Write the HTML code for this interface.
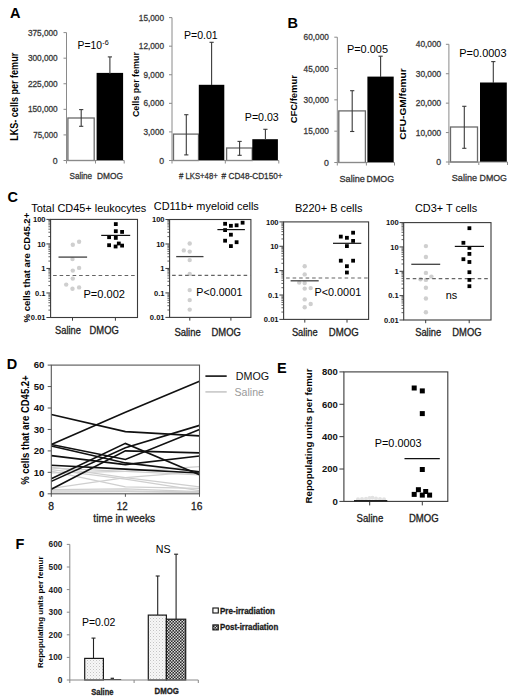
<!DOCTYPE html>
<html><head><meta charset="utf-8"><style>
html,body{margin:0;padding:0;background:#fff;}
svg{display:block;font-family:"Liberation Sans", sans-serif;}
</style></head><body>
<svg width="520" height="699" viewBox="0 0 520 699">
<rect width="520" height="699" fill="#fff"/>
<defs>
<pattern id="stip" width="3" height="3" patternUnits="userSpaceOnUse">
<rect width="3" height="3" fill="#f7f7f7"/><rect x="0" y="0" width="1" height="1" fill="#c4c4c4"/><rect x="1.5" y="1.5" width="1" height="1" fill="#d8d8d8"/>
</pattern>
<pattern id="chk" width="3" height="3" patternUnits="userSpaceOnUse">
<rect width="3" height="3" fill="#2a2a2a"/><rect x="0" y="0" width="1.5" height="1.5" fill="#d8d8d8"/><rect x="1.5" y="1.5" width="1.5" height="1.5" fill="#d8d8d8"/>
</pattern>
</defs>
<text x="10" y="17.6" font-size="14.5" font-weight="bold">A</text>
<text x="287.6" y="27.5" font-size="14.5" font-weight="bold">B</text>
<text x="7.4" y="202.3" font-size="14.5" font-weight="bold">C</text>
<text x="6.7" y="369" font-size="14.5" font-weight="bold">D</text>
<text x="277" y="373" font-size="14.5" font-weight="bold">E</text>
<text x="15.6" y="549" font-size="14.5" font-weight="bold">F</text>
<line x1="66.5" y1="32.6" x2="66.5" y2="160.5" stroke="#8a8a8a" stroke-width="1"/>
<line x1="63.5" y1="160.5" x2="66.5" y2="160.5" stroke="#8a8a8a" stroke-width="1"/>
<text x="57.7" y="163.6" font-size="8.7" text-anchor="end" fill="#3a3a3a" stroke="#3a3a3a" stroke-width="0.3">0</text>
<line x1="63.5" y1="134.92" x2="66.5" y2="134.92" stroke="#8a8a8a" stroke-width="1"/>
<text x="57.7" y="138.02" font-size="8.7" text-anchor="end" fill="#3a3a3a" textLength="24.5" lengthAdjust="spacingAndGlyphs" stroke="#3a3a3a" stroke-width="0.3">75,000</text>
<line x1="63.5" y1="109.34" x2="66.5" y2="109.34" stroke="#8a8a8a" stroke-width="1"/>
<text x="57.7" y="112.44" font-size="8.7" text-anchor="end" fill="#3a3a3a" textLength="29.8" lengthAdjust="spacingAndGlyphs" stroke="#3a3a3a" stroke-width="0.3">150,000</text>
<line x1="63.5" y1="83.76" x2="66.5" y2="83.76" stroke="#8a8a8a" stroke-width="1"/>
<text x="57.7" y="86.86" font-size="8.7" text-anchor="end" fill="#3a3a3a" textLength="29.8" lengthAdjust="spacingAndGlyphs" stroke="#3a3a3a" stroke-width="0.3">225,000</text>
<line x1="63.5" y1="58.18" x2="66.5" y2="58.18" stroke="#8a8a8a" stroke-width="1"/>
<text x="57.7" y="61.28" font-size="8.7" text-anchor="end" fill="#3a3a3a" textLength="29.8" lengthAdjust="spacingAndGlyphs" stroke="#3a3a3a" stroke-width="0.3">300,000</text>
<line x1="63.5" y1="32.6" x2="66.5" y2="32.6" stroke="#8a8a8a" stroke-width="1"/>
<text x="57.7" y="35.7" font-size="8.7" text-anchor="end" fill="#3a3a3a" textLength="29.8" lengthAdjust="spacingAndGlyphs" stroke="#3a3a3a" stroke-width="0.3">375,000</text>
<rect x="67.9" y="118" width="26.3" height="42.5" fill="#fff" stroke="#6a6a6a" stroke-width="1.3"/>
<rect x="96.6" y="72.9" width="26.5" height="87.6" fill="#000"/>
<line x1="81.2" y1="109.6" x2="81.2" y2="126.3" stroke="#3a3a3a" stroke-width="1.1"/>
<line x1="79.1" y1="109.6" x2="83.3" y2="109.6" stroke="#3a3a3a" stroke-width="1.1"/>
<line x1="79.1" y1="126.3" x2="83.3" y2="126.3" stroke="#3a3a3a" stroke-width="1.1"/>
<line x1="109.9" y1="56.9" x2="109.9" y2="74" stroke="#3a3a3a" stroke-width="1.1"/>
<line x1="107.8" y1="56.9" x2="112" y2="56.9" stroke="#3a3a3a" stroke-width="1.1"/>
<line x1="66.5" y1="160.5" x2="124.2" y2="160.5" stroke="#8a8a8a" stroke-width="1"/>
<line x1="66.5" y1="160.5" x2="66.5" y2="163.5" stroke="#8a8a8a" stroke-width="1"/>
<line x1="95.5" y1="160.5" x2="95.5" y2="163.5" stroke="#8a8a8a" stroke-width="1"/>
<line x1="124.2" y1="160.5" x2="124.2" y2="163.5" stroke="#8a8a8a" stroke-width="1"/>
<text x="69.5" y="178.7" font-size="9.6" fill="#333" textLength="22.6" lengthAdjust="spacingAndGlyphs" stroke="#333" stroke-width="0.3">Saline</text>
<text x="97" y="178.6" font-size="9.6" fill="#333" textLength="26" lengthAdjust="spacingAndGlyphs" stroke="#333" stroke-width="0.3">DMOG</text>
<text transform="translate(18,96.8) rotate(-90)" font-size="10.5" font-weight="bold" text-anchor="middle" textLength="88" lengthAdjust="spacingAndGlyphs">LKS- cells per femur</text>
<text x="77.5" y="49.2" font-size="11.2" textLength="24.5" lengthAdjust="spacingAndGlyphs">P=10</text>
<text x="102.3" y="45" font-size="7" textLength="6.4" lengthAdjust="spacingAndGlyphs">-6</text>
<line x1="172" y1="17.6" x2="172" y2="160.5" stroke="#8a8a8a" stroke-width="1"/>
<line x1="169" y1="160.5" x2="172" y2="160.5" stroke="#8a8a8a" stroke-width="1"/>
<text x="164" y="163.6" font-size="8.7" text-anchor="end" fill="#3a3a3a" stroke="#3a3a3a" stroke-width="0.3">0</text>
<line x1="169" y1="131.92" x2="172" y2="131.92" stroke="#8a8a8a" stroke-width="1"/>
<text x="164" y="135.02" font-size="8.7" text-anchor="end" fill="#3a3a3a" textLength="20.5" lengthAdjust="spacingAndGlyphs" stroke="#3a3a3a" stroke-width="0.3">3,000</text>
<line x1="169" y1="103.34" x2="172" y2="103.34" stroke="#8a8a8a" stroke-width="1"/>
<text x="164" y="106.44" font-size="8.7" text-anchor="end" fill="#3a3a3a" textLength="20.5" lengthAdjust="spacingAndGlyphs" stroke="#3a3a3a" stroke-width="0.3">6,000</text>
<line x1="169" y1="74.76" x2="172" y2="74.76" stroke="#8a8a8a" stroke-width="1"/>
<text x="164" y="77.86" font-size="8.7" text-anchor="end" fill="#3a3a3a" textLength="20.5" lengthAdjust="spacingAndGlyphs" stroke="#3a3a3a" stroke-width="0.3">9,000</text>
<line x1="169" y1="46.18" x2="172" y2="46.18" stroke="#8a8a8a" stroke-width="1"/>
<text x="164" y="49.28" font-size="8.7" text-anchor="end" fill="#3a3a3a" textLength="25.2" lengthAdjust="spacingAndGlyphs" stroke="#3a3a3a" stroke-width="0.3">12,000</text>
<line x1="169" y1="17.6" x2="172" y2="17.6" stroke="#8a8a8a" stroke-width="1"/>
<text x="164" y="20.7" font-size="8.7" text-anchor="end" fill="#3a3a3a" textLength="25.2" lengthAdjust="spacingAndGlyphs" stroke="#3a3a3a" stroke-width="0.3">15,000</text>
<rect x="173.5" y="134.1" width="25" height="26.4" fill="#fff" stroke="#6a6a6a" stroke-width="1.3"/>
<rect x="198.8" y="84.8" width="25.5" height="75.7" fill="#000"/>
<rect x="226.6" y="148" width="25.6" height="12.5" fill="#fff" stroke="#6a6a6a" stroke-width="1.3"/>
<rect x="252.3" y="139.2" width="25.6" height="21.3" fill="#000"/>
<line x1="186.3" y1="114.7" x2="186.3" y2="154.9" stroke="#3a3a3a" stroke-width="1.1"/>
<line x1="184.2" y1="114.7" x2="188.4" y2="114.7" stroke="#3a3a3a" stroke-width="1.1"/>
<line x1="184.2" y1="154.9" x2="188.4" y2="154.9" stroke="#3a3a3a" stroke-width="1.1"/>
<line x1="211.6" y1="42.3" x2="211.6" y2="85" stroke="#3a3a3a" stroke-width="1.1"/>
<line x1="209.5" y1="42.3" x2="213.7" y2="42.3" stroke="#3a3a3a" stroke-width="1.1"/>
<line x1="239.6" y1="141.4" x2="239.6" y2="155.3" stroke="#3a3a3a" stroke-width="1.1"/>
<line x1="237.5" y1="141.4" x2="241.7" y2="141.4" stroke="#3a3a3a" stroke-width="1.1"/>
<line x1="237.5" y1="155.3" x2="241.7" y2="155.3" stroke="#3a3a3a" stroke-width="1.1"/>
<line x1="265.4" y1="129.3" x2="265.4" y2="140" stroke="#3a3a3a" stroke-width="1.1"/>
<line x1="263.3" y1="129.3" x2="267.5" y2="129.3" stroke="#3a3a3a" stroke-width="1.1"/>
<line x1="172" y1="160.5" x2="278.8" y2="160.5" stroke="#8a8a8a" stroke-width="1"/>
<line x1="172" y1="160.5" x2="172" y2="163.5" stroke="#8a8a8a" stroke-width="1"/>
<line x1="225.3" y1="160.5" x2="225.3" y2="163.5" stroke="#8a8a8a" stroke-width="1"/>
<line x1="278.8" y1="160.5" x2="278.8" y2="163.5" stroke="#8a8a8a" stroke-width="1"/>
<text x="179" y="178.6" font-size="9.6" fill="#333" textLength="38.7" lengthAdjust="spacingAndGlyphs" stroke="#333" stroke-width="0.3"># LKS+48+</text>
<text x="221.6" y="178.6" font-size="9.6" fill="#333" textLength="61" lengthAdjust="spacingAndGlyphs" stroke="#333" stroke-width="0.3"># CD48-CD150+</text>
<text transform="translate(138.8,84.6) rotate(-90)" font-size="9.6" font-weight="bold" text-anchor="middle" textLength="65" lengthAdjust="spacingAndGlyphs">Cells per femur</text>
<text x="184" y="39.2" font-size="11.2" textLength="33.7" lengthAdjust="spacingAndGlyphs">P=0.01</text>
<text x="244.8" y="121.2" font-size="11.2" textLength="34" lengthAdjust="spacingAndGlyphs">P=0.03</text>
<line x1="337.3" y1="37.2" x2="337.3" y2="162.5" stroke="#8a8a8a" stroke-width="1"/>
<line x1="334.3" y1="162.5" x2="337.3" y2="162.5" stroke="#8a8a8a" stroke-width="1"/>
<text x="328.8" y="165.6" font-size="8.7" text-anchor="end" fill="#3a3a3a" stroke="#3a3a3a" stroke-width="0.3">0</text>
<line x1="334.3" y1="131.18" x2="337.3" y2="131.18" stroke="#8a8a8a" stroke-width="1"/>
<text x="328.8" y="134.28" font-size="8.7" text-anchor="end" fill="#3a3a3a" textLength="25.2" lengthAdjust="spacingAndGlyphs" stroke="#3a3a3a" stroke-width="0.3">15,000</text>
<line x1="334.3" y1="99.85" x2="337.3" y2="99.85" stroke="#8a8a8a" stroke-width="1"/>
<text x="328.8" y="102.95" font-size="8.7" text-anchor="end" fill="#3a3a3a" textLength="25.2" lengthAdjust="spacingAndGlyphs" stroke="#3a3a3a" stroke-width="0.3">30,000</text>
<line x1="334.3" y1="68.53" x2="337.3" y2="68.53" stroke="#8a8a8a" stroke-width="1"/>
<text x="328.8" y="71.62" font-size="8.7" text-anchor="end" fill="#3a3a3a" textLength="25.2" lengthAdjust="spacingAndGlyphs" stroke="#3a3a3a" stroke-width="0.3">45,000</text>
<line x1="334.3" y1="37.2" x2="337.3" y2="37.2" stroke="#8a8a8a" stroke-width="1"/>
<text x="328.8" y="40.3" font-size="8.7" text-anchor="end" fill="#3a3a3a" textLength="25.2" lengthAdjust="spacingAndGlyphs" stroke="#3a3a3a" stroke-width="0.3">60,000</text>
<rect x="338.8" y="110.9" width="26.6" height="51.6" fill="#fff" stroke="#6a6a6a" stroke-width="1.3"/>
<rect x="367.4" y="76.6" width="26.3" height="85.9" fill="#000"/>
<line x1="352.2" y1="90.7" x2="352.2" y2="131.5" stroke="#3a3a3a" stroke-width="1.1"/>
<line x1="350.1" y1="90.7" x2="354.3" y2="90.7" stroke="#3a3a3a" stroke-width="1.1"/>
<line x1="350.1" y1="131.5" x2="354.3" y2="131.5" stroke="#3a3a3a" stroke-width="1.1"/>
<line x1="380.6" y1="56.2" x2="380.6" y2="77" stroke="#3a3a3a" stroke-width="1.1"/>
<line x1="378.5" y1="56.2" x2="382.7" y2="56.2" stroke="#3a3a3a" stroke-width="1.1"/>
<line x1="337.3" y1="162.5" x2="394.5" y2="162.5" stroke="#8a8a8a" stroke-width="1"/>
<line x1="337.3" y1="162.5" x2="337.3" y2="165.5" stroke="#8a8a8a" stroke-width="1"/>
<line x1="366.4" y1="162.5" x2="366.4" y2="165.5" stroke="#8a8a8a" stroke-width="1"/>
<line x1="394.5" y1="162.5" x2="394.5" y2="165.5" stroke="#8a8a8a" stroke-width="1"/>
<text x="339.5" y="181.6" font-size="9.6" fill="#333" textLength="25.3" lengthAdjust="spacingAndGlyphs" stroke="#333" stroke-width="0.3">Saline</text>
<text x="366.6" y="181.6" font-size="9.6" fill="#333" textLength="27.5" lengthAdjust="spacingAndGlyphs" stroke="#333" stroke-width="0.3">DMOG</text>
<text transform="translate(297.2,99.2) rotate(-90)" font-size="9" font-weight="bold" text-anchor="middle" textLength="48.3" lengthAdjust="spacingAndGlyphs">CFC/femur</text>
<text x="346.9" y="52.7" font-size="11.2" textLength="41.1" lengthAdjust="spacingAndGlyphs">P=0.005</text>
<line x1="448.9" y1="44.3" x2="448.9" y2="162" stroke="#8a8a8a" stroke-width="1"/>
<line x1="445.9" y1="162" x2="448.9" y2="162" stroke="#8a8a8a" stroke-width="1"/>
<text x="441.2" y="165.1" font-size="8.7" text-anchor="end" fill="#3a3a3a" stroke="#3a3a3a" stroke-width="0.3">0</text>
<line x1="445.9" y1="132.57" x2="448.9" y2="132.57" stroke="#8a8a8a" stroke-width="1"/>
<text x="441.2" y="135.67" font-size="8.7" text-anchor="end" fill="#3a3a3a" textLength="25.4" lengthAdjust="spacingAndGlyphs" stroke="#3a3a3a" stroke-width="0.3">10,000</text>
<line x1="445.9" y1="103.15" x2="448.9" y2="103.15" stroke="#8a8a8a" stroke-width="1"/>
<text x="441.2" y="106.25" font-size="8.7" text-anchor="end" fill="#3a3a3a" textLength="25.4" lengthAdjust="spacingAndGlyphs" stroke="#3a3a3a" stroke-width="0.3">20,000</text>
<line x1="445.9" y1="73.72" x2="448.9" y2="73.72" stroke="#8a8a8a" stroke-width="1"/>
<text x="441.2" y="76.82" font-size="8.7" text-anchor="end" fill="#3a3a3a" textLength="25.4" lengthAdjust="spacingAndGlyphs" stroke="#3a3a3a" stroke-width="0.3">30,000</text>
<line x1="445.9" y1="44.3" x2="448.9" y2="44.3" stroke="#8a8a8a" stroke-width="1"/>
<text x="441.2" y="47.4" font-size="8.7" text-anchor="end" fill="#3a3a3a" textLength="25.4" lengthAdjust="spacingAndGlyphs" stroke="#3a3a3a" stroke-width="0.3">40,000</text>
<rect x="450.5" y="127" width="27" height="35" fill="#fff" stroke="#6a6a6a" stroke-width="1.3"/>
<rect x="480" y="82.5" width="26.8" height="79.5" fill="#000"/>
<line x1="464.3" y1="106.3" x2="464.3" y2="148.3" stroke="#3a3a3a" stroke-width="1.1"/>
<line x1="462.2" y1="106.3" x2="466.4" y2="106.3" stroke="#3a3a3a" stroke-width="1.1"/>
<line x1="462.2" y1="148.3" x2="466.4" y2="148.3" stroke="#3a3a3a" stroke-width="1.1"/>
<line x1="493.3" y1="61.6" x2="493.3" y2="83" stroke="#3a3a3a" stroke-width="1.1"/>
<line x1="491.2" y1="61.6" x2="495.4" y2="61.6" stroke="#3a3a3a" stroke-width="1.1"/>
<line x1="448.9" y1="162" x2="507.5" y2="162" stroke="#8a8a8a" stroke-width="1"/>
<line x1="448.9" y1="162" x2="448.9" y2="165" stroke="#8a8a8a" stroke-width="1"/>
<line x1="478.8" y1="162" x2="478.8" y2="165" stroke="#8a8a8a" stroke-width="1"/>
<line x1="507.5" y1="162" x2="507.5" y2="165" stroke="#8a8a8a" stroke-width="1"/>
<text x="451.8" y="181.2" font-size="9.6" fill="#333" textLength="25.3" lengthAdjust="spacingAndGlyphs" stroke="#333" stroke-width="0.3">Saline</text>
<text x="479.5" y="181.2" font-size="9.6" fill="#333" textLength="27.5" lengthAdjust="spacingAndGlyphs" stroke="#333" stroke-width="0.3">DMOG</text>
<text transform="translate(405.7,104) rotate(-90)" font-size="9.4" font-weight="bold" text-anchor="middle" textLength="71.5" lengthAdjust="spacingAndGlyphs">CFU-GM/femur</text>
<text x="459.3" y="56.6" font-size="11.2" textLength="47.2" lengthAdjust="spacingAndGlyphs">P=0.0003</text>
<rect x="50.6" y="219.4" width="86.9" height="98.1" fill="none" stroke="#3a3a3a" stroke-width="1.1"/>
<line x1="46.4" y1="219.4" x2="50.6" y2="219.4" stroke="#3a3a3a" stroke-width="1"/>
<text x="45.6" y="222.1" font-size="7.6" font-weight="bold" text-anchor="end" fill="#111">100</text>
<line x1="48.4" y1="236.54" x2="50.6" y2="236.54" stroke="#3a3a3a" stroke-width="0.8"/>
<line x1="48.4" y1="232.22" x2="50.6" y2="232.22" stroke="#3a3a3a" stroke-width="0.8"/>
<line x1="48.4" y1="229.16" x2="50.6" y2="229.16" stroke="#3a3a3a" stroke-width="0.8"/>
<line x1="48.4" y1="226.78" x2="50.6" y2="226.78" stroke="#3a3a3a" stroke-width="0.8"/>
<line x1="48.4" y1="224.84" x2="50.6" y2="224.84" stroke="#3a3a3a" stroke-width="0.8"/>
<line x1="48.4" y1="223.2" x2="50.6" y2="223.2" stroke="#3a3a3a" stroke-width="0.8"/>
<line x1="48.4" y1="221.78" x2="50.6" y2="221.78" stroke="#3a3a3a" stroke-width="0.8"/>
<line x1="48.4" y1="220.52" x2="50.6" y2="220.52" stroke="#3a3a3a" stroke-width="0.8"/>
<line x1="46.4" y1="243.93" x2="50.6" y2="243.93" stroke="#3a3a3a" stroke-width="1"/>
<text x="45.6" y="246.62" font-size="7.6" font-weight="bold" text-anchor="end" fill="#111">10</text>
<line x1="48.4" y1="261.07" x2="50.6" y2="261.07" stroke="#3a3a3a" stroke-width="0.8"/>
<line x1="48.4" y1="256.75" x2="50.6" y2="256.75" stroke="#3a3a3a" stroke-width="0.8"/>
<line x1="48.4" y1="253.68" x2="50.6" y2="253.68" stroke="#3a3a3a" stroke-width="0.8"/>
<line x1="48.4" y1="251.31" x2="50.6" y2="251.31" stroke="#3a3a3a" stroke-width="0.8"/>
<line x1="48.4" y1="249.37" x2="50.6" y2="249.37" stroke="#3a3a3a" stroke-width="0.8"/>
<line x1="48.4" y1="247.72" x2="50.6" y2="247.72" stroke="#3a3a3a" stroke-width="0.8"/>
<line x1="48.4" y1="246.3" x2="50.6" y2="246.3" stroke="#3a3a3a" stroke-width="0.8"/>
<line x1="48.4" y1="245.05" x2="50.6" y2="245.05" stroke="#3a3a3a" stroke-width="0.8"/>
<line x1="46.4" y1="268.45" x2="50.6" y2="268.45" stroke="#3a3a3a" stroke-width="1"/>
<text x="45.6" y="271.15" font-size="7.6" font-weight="bold" text-anchor="end" fill="#111">1</text>
<line x1="48.4" y1="285.59" x2="50.6" y2="285.59" stroke="#3a3a3a" stroke-width="0.8"/>
<line x1="48.4" y1="281.27" x2="50.6" y2="281.27" stroke="#3a3a3a" stroke-width="0.8"/>
<line x1="48.4" y1="278.21" x2="50.6" y2="278.21" stroke="#3a3a3a" stroke-width="0.8"/>
<line x1="48.4" y1="275.83" x2="50.6" y2="275.83" stroke="#3a3a3a" stroke-width="0.8"/>
<line x1="48.4" y1="273.89" x2="50.6" y2="273.89" stroke="#3a3a3a" stroke-width="0.8"/>
<line x1="48.4" y1="272.25" x2="50.6" y2="272.25" stroke="#3a3a3a" stroke-width="0.8"/>
<line x1="48.4" y1="270.83" x2="50.6" y2="270.83" stroke="#3a3a3a" stroke-width="0.8"/>
<line x1="48.4" y1="269.57" x2="50.6" y2="269.57" stroke="#3a3a3a" stroke-width="0.8"/>
<line x1="46.4" y1="292.98" x2="50.6" y2="292.98" stroke="#3a3a3a" stroke-width="1"/>
<text x="45.6" y="295.68" font-size="7.6" font-weight="bold" text-anchor="end" fill="#111">0.1</text>
<line x1="48.4" y1="310.12" x2="50.6" y2="310.12" stroke="#3a3a3a" stroke-width="0.8"/>
<line x1="48.4" y1="305.8" x2="50.6" y2="305.8" stroke="#3a3a3a" stroke-width="0.8"/>
<line x1="48.4" y1="302.73" x2="50.6" y2="302.73" stroke="#3a3a3a" stroke-width="0.8"/>
<line x1="48.4" y1="300.36" x2="50.6" y2="300.36" stroke="#3a3a3a" stroke-width="0.8"/>
<line x1="48.4" y1="298.42" x2="50.6" y2="298.42" stroke="#3a3a3a" stroke-width="0.8"/>
<line x1="48.4" y1="296.77" x2="50.6" y2="296.77" stroke="#3a3a3a" stroke-width="0.8"/>
<line x1="48.4" y1="295.35" x2="50.6" y2="295.35" stroke="#3a3a3a" stroke-width="0.8"/>
<line x1="48.4" y1="294.1" x2="50.6" y2="294.1" stroke="#3a3a3a" stroke-width="0.8"/>
<line x1="46.4" y1="317.5" x2="50.6" y2="317.5" stroke="#3a3a3a" stroke-width="1"/>
<text x="45.6" y="320.2" font-size="7.6" font-weight="bold" text-anchor="end" fill="#111">0.01</text>
<line x1="72.5" y1="317.5" x2="72.5" y2="320.7" stroke="#3a3a3a" stroke-width="1"/>
<line x1="115.4" y1="317.5" x2="115.4" y2="320.7" stroke="#3a3a3a" stroke-width="1"/>
<text x="31.3" y="211.6" font-size="11" textLength="115" lengthAdjust="spacingAndGlyphs">Total CD45+ leukocytes</text>
<circle cx="72.8" cy="244.8" r="2.2" fill="#cfcfcf"/>
<circle cx="79.1" cy="241.8" r="2.2" fill="#cfcfcf"/>
<circle cx="72.5" cy="259.1" r="2.2" fill="#cfcfcf"/>
<circle cx="79.1" cy="267.9" r="2.2" fill="#cfcfcf"/>
<circle cx="72.8" cy="270.6" r="2.2" fill="#cfcfcf"/>
<circle cx="72.8" cy="278.6" r="2.2" fill="#cfcfcf"/>
<circle cx="66.2" cy="284.6" r="2.2" fill="#cfcfcf"/>
<circle cx="72.5" cy="288.7" r="2.2" fill="#cfcfcf"/>
<circle cx="79.1" cy="287.4" r="2.2" fill="#cfcfcf"/>
<line x1="53.1" y1="275.5" x2="136.9" y2="275.5" stroke="#646464" stroke-width="1.2" stroke-dasharray="3.6,2.9"/>
<rect x="113.9" y="222.2" width="3.8" height="3.8" fill="#000"/>
<rect x="113.9" y="229.3" width="3.8" height="3.8" fill="#000"/>
<rect x="120.2" y="230" width="3.8" height="3.8" fill="#000"/>
<rect x="107.2" y="235.3" width="3.8" height="3.8" fill="#000"/>
<rect x="113.9" y="236" width="3.8" height="3.8" fill="#000"/>
<rect x="107.2" y="243.3" width="3.8" height="3.8" fill="#000"/>
<rect x="113.7" y="244.6" width="3.8" height="3.8" fill="#000"/>
<rect x="116.9" y="241.6" width="3.8" height="3.8" fill="#000"/>
<rect x="120.2" y="243.7" width="3.8" height="3.8" fill="#000"/>
<line x1="58.5" y1="257.1" x2="87.1" y2="257.1" stroke="#404040" stroke-width="1.3"/>
<line x1="101.2" y1="235.4" x2="130.2" y2="235.4" stroke="#111" stroke-width="1.2"/>
<text x="83.5" y="297.7" font-size="11" textLength="41.5" lengthAdjust="spacingAndGlyphs">P=0.002</text>
<text x="55" y="333.6" font-size="10" fill="#222" textLength="26" lengthAdjust="spacingAndGlyphs" stroke="#222" stroke-width="0.3">Saline</text>
<text x="89.6" y="333.6" font-size="10" fill="#222" textLength="29.2" lengthAdjust="spacingAndGlyphs" stroke="#222" stroke-width="0.3">DMOG</text>
<rect x="169.6" y="219.5" width="81.3" height="97.9" fill="none" stroke="#3a3a3a" stroke-width="1.1"/>
<line x1="165.4" y1="219.5" x2="169.6" y2="219.5" stroke="#3a3a3a" stroke-width="1"/>
<text x="164.6" y="222.2" font-size="7.6" font-weight="bold" text-anchor="end" fill="#111">100</text>
<line x1="167.4" y1="236.61" x2="169.6" y2="236.61" stroke="#3a3a3a" stroke-width="0.8"/>
<line x1="167.4" y1="232.3" x2="169.6" y2="232.3" stroke="#3a3a3a" stroke-width="0.8"/>
<line x1="167.4" y1="229.24" x2="169.6" y2="229.24" stroke="#3a3a3a" stroke-width="0.8"/>
<line x1="167.4" y1="226.87" x2="169.6" y2="226.87" stroke="#3a3a3a" stroke-width="0.8"/>
<line x1="167.4" y1="224.93" x2="169.6" y2="224.93" stroke="#3a3a3a" stroke-width="0.8"/>
<line x1="167.4" y1="223.29" x2="169.6" y2="223.29" stroke="#3a3a3a" stroke-width="0.8"/>
<line x1="167.4" y1="221.87" x2="169.6" y2="221.87" stroke="#3a3a3a" stroke-width="0.8"/>
<line x1="167.4" y1="220.62" x2="169.6" y2="220.62" stroke="#3a3a3a" stroke-width="0.8"/>
<line x1="165.4" y1="243.97" x2="169.6" y2="243.97" stroke="#3a3a3a" stroke-width="1"/>
<text x="164.6" y="246.67" font-size="7.6" font-weight="bold" text-anchor="end" fill="#111">10</text>
<line x1="167.4" y1="261.08" x2="169.6" y2="261.08" stroke="#3a3a3a" stroke-width="0.8"/>
<line x1="167.4" y1="256.77" x2="169.6" y2="256.77" stroke="#3a3a3a" stroke-width="0.8"/>
<line x1="167.4" y1="253.71" x2="169.6" y2="253.71" stroke="#3a3a3a" stroke-width="0.8"/>
<line x1="167.4" y1="251.34" x2="169.6" y2="251.34" stroke="#3a3a3a" stroke-width="0.8"/>
<line x1="167.4" y1="249.4" x2="169.6" y2="249.4" stroke="#3a3a3a" stroke-width="0.8"/>
<line x1="167.4" y1="247.77" x2="169.6" y2="247.77" stroke="#3a3a3a" stroke-width="0.8"/>
<line x1="167.4" y1="246.35" x2="169.6" y2="246.35" stroke="#3a3a3a" stroke-width="0.8"/>
<line x1="167.4" y1="245.09" x2="169.6" y2="245.09" stroke="#3a3a3a" stroke-width="0.8"/>
<line x1="165.4" y1="268.45" x2="169.6" y2="268.45" stroke="#3a3a3a" stroke-width="1"/>
<text x="164.6" y="271.15" font-size="7.6" font-weight="bold" text-anchor="end" fill="#111">1</text>
<line x1="167.4" y1="285.56" x2="169.6" y2="285.56" stroke="#3a3a3a" stroke-width="0.8"/>
<line x1="167.4" y1="281.25" x2="169.6" y2="281.25" stroke="#3a3a3a" stroke-width="0.8"/>
<line x1="167.4" y1="278.19" x2="169.6" y2="278.19" stroke="#3a3a3a" stroke-width="0.8"/>
<line x1="167.4" y1="275.82" x2="169.6" y2="275.82" stroke="#3a3a3a" stroke-width="0.8"/>
<line x1="167.4" y1="273.88" x2="169.6" y2="273.88" stroke="#3a3a3a" stroke-width="0.8"/>
<line x1="167.4" y1="272.24" x2="169.6" y2="272.24" stroke="#3a3a3a" stroke-width="0.8"/>
<line x1="167.4" y1="270.82" x2="169.6" y2="270.82" stroke="#3a3a3a" stroke-width="0.8"/>
<line x1="167.4" y1="269.57" x2="169.6" y2="269.57" stroke="#3a3a3a" stroke-width="0.8"/>
<line x1="165.4" y1="292.92" x2="169.6" y2="292.92" stroke="#3a3a3a" stroke-width="1"/>
<text x="164.6" y="295.62" font-size="7.6" font-weight="bold" text-anchor="end" fill="#111">0.1</text>
<line x1="167.4" y1="310.03" x2="169.6" y2="310.03" stroke="#3a3a3a" stroke-width="0.8"/>
<line x1="167.4" y1="305.72" x2="169.6" y2="305.72" stroke="#3a3a3a" stroke-width="0.8"/>
<line x1="167.4" y1="302.66" x2="169.6" y2="302.66" stroke="#3a3a3a" stroke-width="0.8"/>
<line x1="167.4" y1="300.29" x2="169.6" y2="300.29" stroke="#3a3a3a" stroke-width="0.8"/>
<line x1="167.4" y1="298.35" x2="169.6" y2="298.35" stroke="#3a3a3a" stroke-width="0.8"/>
<line x1="167.4" y1="296.72" x2="169.6" y2="296.72" stroke="#3a3a3a" stroke-width="0.8"/>
<line x1="167.4" y1="295.3" x2="169.6" y2="295.3" stroke="#3a3a3a" stroke-width="0.8"/>
<line x1="167.4" y1="294.04" x2="169.6" y2="294.04" stroke="#3a3a3a" stroke-width="0.8"/>
<line x1="165.4" y1="317.4" x2="169.6" y2="317.4" stroke="#3a3a3a" stroke-width="1"/>
<text x="164.6" y="320.1" font-size="7.6" font-weight="bold" text-anchor="end" fill="#111">0.01</text>
<line x1="189.8" y1="317.4" x2="189.8" y2="320.6" stroke="#3a3a3a" stroke-width="1"/>
<line x1="230.9" y1="317.4" x2="230.9" y2="320.6" stroke="#3a3a3a" stroke-width="1"/>
<text x="153.8" y="210.4" font-size="11" textLength="105" lengthAdjust="spacingAndGlyphs">CD11b+ myeloid cells</text>
<circle cx="189.7" cy="243.5" r="2.2" fill="#cfcfcf"/>
<circle cx="183.8" cy="250.4" r="2.2" fill="#cfcfcf"/>
<circle cx="189.7" cy="251.6" r="2.2" fill="#cfcfcf"/>
<circle cx="189.7" cy="260.1" r="2.2" fill="#cfcfcf"/>
<circle cx="189.7" cy="273.9" r="2.2" fill="#cfcfcf"/>
<circle cx="189.7" cy="290.1" r="2.2" fill="#cfcfcf"/>
<circle cx="189.7" cy="300.1" r="2.2" fill="#cfcfcf"/>
<circle cx="189.7" cy="309.6" r="2.2" fill="#cfcfcf"/>
<line x1="172.1" y1="275.4" x2="250.3" y2="275.4" stroke="#646464" stroke-width="1.2" stroke-dasharray="3.6,2.9"/>
<rect x="223.2" y="221.9" width="3.8" height="3.8" fill="#000"/>
<rect x="229" y="223.9" width="3.8" height="3.8" fill="#000"/>
<rect x="234.7" y="223.4" width="3.8" height="3.8" fill="#000"/>
<rect x="240.7" y="220.8" width="3.8" height="3.8" fill="#000"/>
<rect x="223.2" y="228.2" width="3.8" height="3.8" fill="#000"/>
<rect x="229" y="232.8" width="3.8" height="3.8" fill="#000"/>
<rect x="223.2" y="238.8" width="3.8" height="3.8" fill="#000"/>
<rect x="234.7" y="240.3" width="3.8" height="3.8" fill="#000"/>
<rect x="229" y="244.2" width="3.8" height="3.8" fill="#000"/>
<line x1="176.2" y1="256.6" x2="203.5" y2="256.6" stroke="#404040" stroke-width="1.3"/>
<line x1="217.4" y1="229.6" x2="244.9" y2="229.6" stroke="#111" stroke-width="1.2"/>
<text x="196.3" y="296.3" font-size="11" textLength="46.2" lengthAdjust="spacingAndGlyphs">P&lt;0.0001</text>
<text x="174.4" y="335.5" font-size="10" fill="#222" textLength="26.4" lengthAdjust="spacingAndGlyphs" stroke="#222" stroke-width="0.3">Saline</text>
<text x="211.5" y="335.5" font-size="10" fill="#222" textLength="29.3" lengthAdjust="spacingAndGlyphs" stroke="#222" stroke-width="0.3">DMOG</text>
<rect x="283.6" y="221.9" width="85" height="97.5" fill="none" stroke="#3a3a3a" stroke-width="1.1"/>
<line x1="279.4" y1="221.9" x2="283.6" y2="221.9" stroke="#3a3a3a" stroke-width="1"/>
<text x="278.6" y="224.6" font-size="7.6" font-weight="bold" text-anchor="end" fill="#111">100</text>
<line x1="281.4" y1="238.94" x2="283.6" y2="238.94" stroke="#3a3a3a" stroke-width="0.8"/>
<line x1="281.4" y1="234.65" x2="283.6" y2="234.65" stroke="#3a3a3a" stroke-width="0.8"/>
<line x1="281.4" y1="231.6" x2="283.6" y2="231.6" stroke="#3a3a3a" stroke-width="0.8"/>
<line x1="281.4" y1="229.24" x2="283.6" y2="229.24" stroke="#3a3a3a" stroke-width="0.8"/>
<line x1="281.4" y1="227.31" x2="283.6" y2="227.31" stroke="#3a3a3a" stroke-width="0.8"/>
<line x1="281.4" y1="225.68" x2="283.6" y2="225.68" stroke="#3a3a3a" stroke-width="0.8"/>
<line x1="281.4" y1="224.26" x2="283.6" y2="224.26" stroke="#3a3a3a" stroke-width="0.8"/>
<line x1="281.4" y1="223.02" x2="283.6" y2="223.02" stroke="#3a3a3a" stroke-width="0.8"/>
<line x1="279.4" y1="246.28" x2="283.6" y2="246.28" stroke="#3a3a3a" stroke-width="1"/>
<text x="278.6" y="248.97" font-size="7.6" font-weight="bold" text-anchor="end" fill="#111">10</text>
<line x1="281.4" y1="263.31" x2="283.6" y2="263.31" stroke="#3a3a3a" stroke-width="0.8"/>
<line x1="281.4" y1="259.02" x2="283.6" y2="259.02" stroke="#3a3a3a" stroke-width="0.8"/>
<line x1="281.4" y1="255.97" x2="283.6" y2="255.97" stroke="#3a3a3a" stroke-width="0.8"/>
<line x1="281.4" y1="253.61" x2="283.6" y2="253.61" stroke="#3a3a3a" stroke-width="0.8"/>
<line x1="281.4" y1="251.68" x2="283.6" y2="251.68" stroke="#3a3a3a" stroke-width="0.8"/>
<line x1="281.4" y1="250.05" x2="283.6" y2="250.05" stroke="#3a3a3a" stroke-width="0.8"/>
<line x1="281.4" y1="248.64" x2="283.6" y2="248.64" stroke="#3a3a3a" stroke-width="0.8"/>
<line x1="281.4" y1="247.39" x2="283.6" y2="247.39" stroke="#3a3a3a" stroke-width="0.8"/>
<line x1="279.4" y1="270.65" x2="283.6" y2="270.65" stroke="#3a3a3a" stroke-width="1"/>
<text x="278.6" y="273.35" font-size="7.6" font-weight="bold" text-anchor="end" fill="#111">1</text>
<line x1="281.4" y1="287.69" x2="283.6" y2="287.69" stroke="#3a3a3a" stroke-width="0.8"/>
<line x1="281.4" y1="283.4" x2="283.6" y2="283.4" stroke="#3a3a3a" stroke-width="0.8"/>
<line x1="281.4" y1="280.35" x2="283.6" y2="280.35" stroke="#3a3a3a" stroke-width="0.8"/>
<line x1="281.4" y1="277.99" x2="283.6" y2="277.99" stroke="#3a3a3a" stroke-width="0.8"/>
<line x1="281.4" y1="276.06" x2="283.6" y2="276.06" stroke="#3a3a3a" stroke-width="0.8"/>
<line x1="281.4" y1="274.43" x2="283.6" y2="274.43" stroke="#3a3a3a" stroke-width="0.8"/>
<line x1="281.4" y1="273.01" x2="283.6" y2="273.01" stroke="#3a3a3a" stroke-width="0.8"/>
<line x1="281.4" y1="271.77" x2="283.6" y2="271.77" stroke="#3a3a3a" stroke-width="0.8"/>
<line x1="279.4" y1="295.02" x2="283.6" y2="295.02" stroke="#3a3a3a" stroke-width="1"/>
<text x="278.6" y="297.72" font-size="7.6" font-weight="bold" text-anchor="end" fill="#111">0.1</text>
<line x1="281.4" y1="312.06" x2="283.6" y2="312.06" stroke="#3a3a3a" stroke-width="0.8"/>
<line x1="281.4" y1="307.77" x2="283.6" y2="307.77" stroke="#3a3a3a" stroke-width="0.8"/>
<line x1="281.4" y1="304.72" x2="283.6" y2="304.72" stroke="#3a3a3a" stroke-width="0.8"/>
<line x1="281.4" y1="302.36" x2="283.6" y2="302.36" stroke="#3a3a3a" stroke-width="0.8"/>
<line x1="281.4" y1="300.43" x2="283.6" y2="300.43" stroke="#3a3a3a" stroke-width="0.8"/>
<line x1="281.4" y1="298.8" x2="283.6" y2="298.8" stroke="#3a3a3a" stroke-width="0.8"/>
<line x1="281.4" y1="297.39" x2="283.6" y2="297.39" stroke="#3a3a3a" stroke-width="0.8"/>
<line x1="281.4" y1="296.14" x2="283.6" y2="296.14" stroke="#3a3a3a" stroke-width="0.8"/>
<line x1="279.4" y1="319.4" x2="283.6" y2="319.4" stroke="#3a3a3a" stroke-width="1"/>
<text x="278.6" y="322.1" font-size="7.6" font-weight="bold" text-anchor="end" fill="#111">0.01</text>
<line x1="304.8" y1="319.4" x2="304.8" y2="322.6" stroke="#3a3a3a" stroke-width="1"/>
<line x1="347" y1="319.4" x2="347" y2="322.6" stroke="#3a3a3a" stroke-width="1"/>
<text x="295" y="211.6" font-size="11" textLength="67.5" lengthAdjust="spacingAndGlyphs">B220+ B cells</text>
<circle cx="304.7" cy="266.2" r="2.2" fill="#cfcfcf"/>
<circle cx="304.7" cy="274.4" r="2.2" fill="#cfcfcf"/>
<circle cx="299.2" cy="282.6" r="2.2" fill="#cfcfcf"/>
<circle cx="304.7" cy="283" r="2.2" fill="#cfcfcf"/>
<circle cx="304.7" cy="288.6" r="2.2" fill="#cfcfcf"/>
<circle cx="310.7" cy="288.1" r="2.2" fill="#cfcfcf"/>
<circle cx="304.7" cy="299.4" r="2.2" fill="#cfcfcf"/>
<circle cx="310.7" cy="304" r="2.2" fill="#cfcfcf"/>
<circle cx="304.7" cy="307.3" r="2.2" fill="#cfcfcf"/>
<line x1="286.1" y1="278" x2="368" y2="278" stroke="#646464" stroke-width="1.2" stroke-dasharray="3.6,2.9"/>
<rect x="338.9" y="234.7" width="3.8" height="3.8" fill="#000"/>
<rect x="345" y="235.9" width="3.8" height="3.8" fill="#000"/>
<rect x="351.2" y="230.8" width="3.8" height="3.8" fill="#000"/>
<rect x="351.2" y="239" width="3.8" height="3.8" fill="#000"/>
<rect x="345" y="244.2" width="3.8" height="3.8" fill="#000"/>
<rect x="338.9" y="258.8" width="3.8" height="3.8" fill="#000"/>
<rect x="351.2" y="258.8" width="3.8" height="3.8" fill="#000"/>
<rect x="345" y="264.3" width="3.8" height="3.8" fill="#000"/>
<rect x="345" y="270.6" width="3.8" height="3.8" fill="#000"/>
<line x1="290.6" y1="280.8" x2="318.7" y2="280.8" stroke="#404040" stroke-width="1.3"/>
<line x1="333" y1="243.3" x2="361.3" y2="243.3" stroke="#111" stroke-width="1.2"/>
<text x="314.5" y="296.4" font-size="11" textLength="46.7" lengthAdjust="spacingAndGlyphs">P&lt;0.0001</text>
<text x="291.9" y="335.6" font-size="10" fill="#222" textLength="25.8" lengthAdjust="spacingAndGlyphs" stroke="#222" stroke-width="0.3">Saline</text>
<text x="328.8" y="335.6" font-size="10" fill="#222" textLength="29.9" lengthAdjust="spacingAndGlyphs" stroke="#222" stroke-width="0.3">DMOG</text>
<rect x="403.7" y="222.6" width="87.3" height="97.4" fill="none" stroke="#3a3a3a" stroke-width="1.1"/>
<line x1="399.5" y1="222.6" x2="403.7" y2="222.6" stroke="#3a3a3a" stroke-width="1"/>
<text x="398.7" y="225.3" font-size="7.6" font-weight="bold" text-anchor="end" fill="#111">100</text>
<line x1="401.5" y1="239.62" x2="403.7" y2="239.62" stroke="#3a3a3a" stroke-width="0.8"/>
<line x1="401.5" y1="235.33" x2="403.7" y2="235.33" stroke="#3a3a3a" stroke-width="0.8"/>
<line x1="401.5" y1="232.29" x2="403.7" y2="232.29" stroke="#3a3a3a" stroke-width="0.8"/>
<line x1="401.5" y1="229.93" x2="403.7" y2="229.93" stroke="#3a3a3a" stroke-width="0.8"/>
<line x1="401.5" y1="228" x2="403.7" y2="228" stroke="#3a3a3a" stroke-width="0.8"/>
<line x1="401.5" y1="226.37" x2="403.7" y2="226.37" stroke="#3a3a3a" stroke-width="0.8"/>
<line x1="401.5" y1="224.96" x2="403.7" y2="224.96" stroke="#3a3a3a" stroke-width="0.8"/>
<line x1="401.5" y1="223.71" x2="403.7" y2="223.71" stroke="#3a3a3a" stroke-width="0.8"/>
<line x1="399.5" y1="246.95" x2="403.7" y2="246.95" stroke="#3a3a3a" stroke-width="1"/>
<text x="398.7" y="249.65" font-size="7.6" font-weight="bold" text-anchor="end" fill="#111">10</text>
<line x1="401.5" y1="263.97" x2="403.7" y2="263.97" stroke="#3a3a3a" stroke-width="0.8"/>
<line x1="401.5" y1="259.68" x2="403.7" y2="259.68" stroke="#3a3a3a" stroke-width="0.8"/>
<line x1="401.5" y1="256.64" x2="403.7" y2="256.64" stroke="#3a3a3a" stroke-width="0.8"/>
<line x1="401.5" y1="254.28" x2="403.7" y2="254.28" stroke="#3a3a3a" stroke-width="0.8"/>
<line x1="401.5" y1="252.35" x2="403.7" y2="252.35" stroke="#3a3a3a" stroke-width="0.8"/>
<line x1="401.5" y1="250.72" x2="403.7" y2="250.72" stroke="#3a3a3a" stroke-width="0.8"/>
<line x1="401.5" y1="249.31" x2="403.7" y2="249.31" stroke="#3a3a3a" stroke-width="0.8"/>
<line x1="401.5" y1="248.06" x2="403.7" y2="248.06" stroke="#3a3a3a" stroke-width="0.8"/>
<line x1="399.5" y1="271.3" x2="403.7" y2="271.3" stroke="#3a3a3a" stroke-width="1"/>
<text x="398.7" y="274" font-size="7.6" font-weight="bold" text-anchor="end" fill="#111">1</text>
<line x1="401.5" y1="288.32" x2="403.7" y2="288.32" stroke="#3a3a3a" stroke-width="0.8"/>
<line x1="401.5" y1="284.03" x2="403.7" y2="284.03" stroke="#3a3a3a" stroke-width="0.8"/>
<line x1="401.5" y1="280.99" x2="403.7" y2="280.99" stroke="#3a3a3a" stroke-width="0.8"/>
<line x1="401.5" y1="278.63" x2="403.7" y2="278.63" stroke="#3a3a3a" stroke-width="0.8"/>
<line x1="401.5" y1="276.7" x2="403.7" y2="276.7" stroke="#3a3a3a" stroke-width="0.8"/>
<line x1="401.5" y1="275.07" x2="403.7" y2="275.07" stroke="#3a3a3a" stroke-width="0.8"/>
<line x1="401.5" y1="273.66" x2="403.7" y2="273.66" stroke="#3a3a3a" stroke-width="0.8"/>
<line x1="401.5" y1="272.41" x2="403.7" y2="272.41" stroke="#3a3a3a" stroke-width="0.8"/>
<line x1="399.5" y1="295.65" x2="403.7" y2="295.65" stroke="#3a3a3a" stroke-width="1"/>
<text x="398.7" y="298.35" font-size="7.6" font-weight="bold" text-anchor="end" fill="#111">0.1</text>
<line x1="401.5" y1="312.67" x2="403.7" y2="312.67" stroke="#3a3a3a" stroke-width="0.8"/>
<line x1="401.5" y1="308.38" x2="403.7" y2="308.38" stroke="#3a3a3a" stroke-width="0.8"/>
<line x1="401.5" y1="305.34" x2="403.7" y2="305.34" stroke="#3a3a3a" stroke-width="0.8"/>
<line x1="401.5" y1="302.98" x2="403.7" y2="302.98" stroke="#3a3a3a" stroke-width="0.8"/>
<line x1="401.5" y1="301.05" x2="403.7" y2="301.05" stroke="#3a3a3a" stroke-width="0.8"/>
<line x1="401.5" y1="299.42" x2="403.7" y2="299.42" stroke="#3a3a3a" stroke-width="0.8"/>
<line x1="401.5" y1="298.01" x2="403.7" y2="298.01" stroke="#3a3a3a" stroke-width="0.8"/>
<line x1="401.5" y1="296.76" x2="403.7" y2="296.76" stroke="#3a3a3a" stroke-width="0.8"/>
<line x1="399.5" y1="320" x2="403.7" y2="320" stroke="#3a3a3a" stroke-width="1"/>
<text x="398.7" y="322.7" font-size="7.6" font-weight="bold" text-anchor="end" fill="#111">0.01</text>
<line x1="425.7" y1="320" x2="425.7" y2="323.2" stroke="#3a3a3a" stroke-width="1"/>
<line x1="469.2" y1="320" x2="469.2" y2="323.2" stroke="#3a3a3a" stroke-width="1"/>
<text x="414.9" y="211.6" font-size="11" textLength="62.3" lengthAdjust="spacingAndGlyphs">CD3+ T cells</text>
<circle cx="425.9" cy="246.1" r="2.2" fill="#cfcfcf"/>
<circle cx="425.9" cy="257" r="2.2" fill="#cfcfcf"/>
<circle cx="425.9" cy="272.9" r="2.2" fill="#cfcfcf"/>
<circle cx="431.4" cy="276.6" r="2.2" fill="#cfcfcf"/>
<circle cx="420.5" cy="279.3" r="2.2" fill="#cfcfcf"/>
<circle cx="425.9" cy="279.9" r="2.2" fill="#cfcfcf"/>
<circle cx="425.9" cy="287.7" r="2.2" fill="#cfcfcf"/>
<circle cx="425.9" cy="298.5" r="2.2" fill="#cfcfcf"/>
<circle cx="425.9" cy="312.2" r="2.2" fill="#cfcfcf"/>
<line x1="406.2" y1="278.6" x2="490.4" y2="278.6" stroke="#646464" stroke-width="1.2" stroke-dasharray="3.6,2.9"/>
<rect x="467.5" y="226.3" width="3.8" height="3.8" fill="#000"/>
<rect x="461.5" y="240.9" width="3.8" height="3.8" fill="#000"/>
<rect x="467.5" y="246" width="3.8" height="3.8" fill="#000"/>
<rect x="467.5" y="252" width="3.8" height="3.8" fill="#000"/>
<rect x="461.5" y="257.3" width="3.8" height="3.8" fill="#000"/>
<rect x="467.5" y="260.1" width="3.8" height="3.8" fill="#000"/>
<rect x="467.5" y="270.3" width="3.8" height="3.8" fill="#000"/>
<rect x="467.5" y="278" width="3.8" height="3.8" fill="#000"/>
<rect x="467.5" y="284.3" width="3.8" height="3.8" fill="#000"/>
<line x1="411.3" y1="264.3" x2="440.2" y2="264.3" stroke="#404040" stroke-width="1.3"/>
<line x1="454.8" y1="246.4" x2="484" y2="246.4" stroke="#111" stroke-width="1.2"/>
<text x="445.7" y="299" font-size="11" textLength="11.5" lengthAdjust="spacingAndGlyphs">ns</text>
<text x="415.2" y="335.6" font-size="10" fill="#222" textLength="26" lengthAdjust="spacingAndGlyphs" stroke="#222" stroke-width="0.3">Saline</text>
<text x="452.3" y="335.6" font-size="10" fill="#222" textLength="29.2" lengthAdjust="spacingAndGlyphs" stroke="#222" stroke-width="0.3">DMOG</text>
<text transform="translate(30.3,267.6) rotate(-90)" font-size="9.5" font-weight="bold" text-anchor="middle" textLength="109.6" lengthAdjust="spacingAndGlyphs">% cells that are CD45.2+</text>
<polyline points="51.3,467.2 125.4,477.71 199.5,486.94" fill="none" stroke="#cfcfcf" stroke-width="1.25"/>
<polyline points="51.3,468.06 125.4,471.49 199.5,474.92" fill="none" stroke="#cfcfcf" stroke-width="1.25"/>
<polyline points="51.3,469.56 125.4,479.21 199.5,490.58" fill="none" stroke="#cfcfcf" stroke-width="1.25"/>
<polyline points="51.3,471.06 125.4,486.94 199.5,488.44" fill="none" stroke="#cfcfcf" stroke-width="1.25"/>
<polyline points="51.3,472.99 125.4,471.49 199.5,466.56" fill="none" stroke="#cfcfcf" stroke-width="1.25"/>
<polyline points="51.3,488.44 125.4,477.71 199.5,471.71" fill="none" stroke="#cfcfcf" stroke-width="1.25"/>
<polyline points="51.3,489.51 125.4,488.87 199.5,491.66" fill="none" stroke="#cfcfcf" stroke-width="1.25"/>
<polyline points="51.3,490.8 125.4,490.8 199.5,492.08" fill="none" stroke="#cfcfcf" stroke-width="1.25"/>
<polyline points="51.3,492.08 125.4,491.66 199.5,492.73" fill="none" stroke="#cfcfcf" stroke-width="1.25"/>
<polyline points="51.3,444.47 125.4,412.29 199.5,381.19" fill="none" stroke="#111" stroke-width="1.6"/>
<polyline points="51.3,414.44 125.4,431.6 199.5,435.88" fill="none" stroke="#111" stroke-width="1.6"/>
<polyline points="51.3,444.47 125.4,459.48 199.5,429.45" fill="none" stroke="#111" stroke-width="1.6"/>
<polyline points="51.3,445.97 125.4,462.91 199.5,471.71" fill="none" stroke="#111" stroke-width="1.6"/>
<polyline points="51.3,455.62 125.4,464.63 199.5,456.05" fill="none" stroke="#111" stroke-width="1.6"/>
<polyline points="51.3,465.27 125.4,469.13 199.5,472.99" fill="none" stroke="#111" stroke-width="1.6"/>
<polyline points="51.3,478.79 125.4,443.39 199.5,474.71" fill="none" stroke="#111" stroke-width="1.6"/>
<polyline points="51.3,481.36 125.4,447.68 199.5,425.37" fill="none" stroke="#111" stroke-width="1.6"/>
<polyline points="51.3,489.3 125.4,450.9 199.5,452.83" fill="none" stroke="#111" stroke-width="1.6"/>
<rect x="51.3" y="365.1" width="148.2" height="128.7" fill="none" stroke="#555" stroke-width="1.1"/>
<line x1="47.7" y1="493.8" x2="51.3" y2="493.8" stroke="#555" stroke-width="1"/>
<text x="44.4" y="497.1" font-size="9.6" font-weight="bold" text-anchor="end" fill="#111">0</text>
<line x1="47.7" y1="472.35" x2="51.3" y2="472.35" stroke="#555" stroke-width="1"/>
<text x="44.4" y="475.65" font-size="9.6" font-weight="bold" text-anchor="end" fill="#111">10</text>
<line x1="47.7" y1="450.9" x2="51.3" y2="450.9" stroke="#555" stroke-width="1"/>
<text x="44.4" y="454.2" font-size="9.6" font-weight="bold" text-anchor="end" fill="#111">20</text>
<line x1="47.7" y1="429.45" x2="51.3" y2="429.45" stroke="#555" stroke-width="1"/>
<text x="44.4" y="432.75" font-size="9.6" font-weight="bold" text-anchor="end" fill="#111">30</text>
<line x1="47.7" y1="408" x2="51.3" y2="408" stroke="#555" stroke-width="1"/>
<text x="44.4" y="411.3" font-size="9.6" font-weight="bold" text-anchor="end" fill="#111">40</text>
<line x1="47.7" y1="386.55" x2="51.3" y2="386.55" stroke="#555" stroke-width="1"/>
<text x="44.4" y="389.85" font-size="9.6" font-weight="bold" text-anchor="end" fill="#111">50</text>
<line x1="47.7" y1="365.1" x2="51.3" y2="365.1" stroke="#555" stroke-width="1"/>
<text x="44.4" y="368.4" font-size="9.6" font-weight="bold" text-anchor="end" fill="#111">60</text>
<line x1="51.3" y1="493.8" x2="51.3" y2="496.8" stroke="#555" stroke-width="1"/>
<line x1="125.4" y1="493.8" x2="125.4" y2="496.8" stroke="#555" stroke-width="1"/>
<line x1="199.5" y1="493.8" x2="199.5" y2="496.8" stroke="#555" stroke-width="1"/>
<text x="51" y="510.3" font-size="10.3" text-anchor="middle" fill="#222" stroke="#222" stroke-width="0.3">8</text>
<text x="122.2" y="510.3" font-size="10.3" text-anchor="middle" fill="#222" textLength="10.8" lengthAdjust="spacingAndGlyphs" stroke="#222" stroke-width="0.3">12</text>
<text x="196.7" y="510.3" font-size="10.3" text-anchor="middle" fill="#222" textLength="11.4" lengthAdjust="spacingAndGlyphs" stroke="#222" stroke-width="0.3">16</text>
<text x="93.3" y="522.4" font-size="10.6" fill="#222" textLength="61.8" lengthAdjust="spacingAndGlyphs" stroke="#222" stroke-width="0.3">time in weeks</text>
<text transform="translate(28.8,430.1) rotate(-90)" font-size="10.8" font-weight="bold" text-anchor="middle" textLength="109.4" lengthAdjust="spacingAndGlyphs">% cells that are CD45.2+</text>
<line x1="205.4" y1="376.1" x2="226.7" y2="376.1" stroke="#111" stroke-width="1.6"/>
<line x1="205.4" y1="391.9" x2="226.7" y2="391.9" stroke="#c8c8c8" stroke-width="1.6"/>
<text x="235.7" y="379.7" font-size="10.6" fill="#111" textLength="33.4" lengthAdjust="spacingAndGlyphs">DMOG</text>
<text x="234.5" y="395.8" font-size="10.6" fill="#9a9a9a" textLength="29.4" lengthAdjust="spacingAndGlyphs">Saline</text>
<rect x="343.9" y="371.9" width="103.9" height="129.5" fill="none" stroke="#3a3a3a" stroke-width="1.1"/>
<line x1="339.4" y1="501.4" x2="343.9" y2="501.4" stroke="#3a3a3a" stroke-width="1"/>
<text x="337.8" y="504.7" font-size="9.6" font-weight="bold" text-anchor="end" fill="#111">0</text>
<line x1="339.4" y1="469.02" x2="343.9" y2="469.02" stroke="#3a3a3a" stroke-width="1"/>
<text x="337.8" y="472.32" font-size="9.6" font-weight="bold" text-anchor="end" fill="#111" textLength="15.8" lengthAdjust="spacingAndGlyphs">200</text>
<line x1="339.4" y1="436.65" x2="343.9" y2="436.65" stroke="#3a3a3a" stroke-width="1"/>
<text x="337.8" y="439.95" font-size="9.6" font-weight="bold" text-anchor="end" fill="#111" textLength="15.8" lengthAdjust="spacingAndGlyphs">400</text>
<line x1="339.4" y1="404.27" x2="343.9" y2="404.27" stroke="#3a3a3a" stroke-width="1"/>
<text x="337.8" y="407.57" font-size="9.6" font-weight="bold" text-anchor="end" fill="#111" textLength="15.8" lengthAdjust="spacingAndGlyphs">600</text>
<line x1="339.4" y1="371.9" x2="343.9" y2="371.9" stroke="#3a3a3a" stroke-width="1"/>
<text x="337.8" y="375.2" font-size="9.6" font-weight="bold" text-anchor="end" fill="#111" textLength="15.8" lengthAdjust="spacingAndGlyphs">800</text>
<line x1="369.7" y1="501.4" x2="369.7" y2="505.4" stroke="#3a3a3a" stroke-width="1"/>
<line x1="422.3" y1="501.4" x2="422.3" y2="505.4" stroke="#3a3a3a" stroke-width="1"/>
<circle cx="358" cy="499.3" r="2" fill="#e2e2e2"/>
<circle cx="362" cy="499" r="2" fill="#e2e2e2"/>
<circle cx="366" cy="498.8" r="2" fill="#e2e2e2"/>
<circle cx="369.5" cy="498" r="2" fill="#e2e2e2"/>
<circle cx="372.5" cy="497.8" r="2" fill="#e2e2e2"/>
<circle cx="376" cy="498.6" r="2" fill="#e2e2e2"/>
<circle cx="380" cy="499" r="2" fill="#e2e2e2"/>
<circle cx="384" cy="499.3" r="2" fill="#e2e2e2"/>
<line x1="354" y1="500.9" x2="387.3" y2="500.9" stroke="#222" stroke-width="1.6"/>
<rect x="411.7" y="385.5" width="5" height="5" fill="#000"/>
<rect x="419.8" y="388.4" width="5" height="5" fill="#000"/>
<rect x="419.8" y="411.1" width="5" height="5" fill="#000"/>
<rect x="419.8" y="467" width="5" height="5" fill="#000"/>
<rect x="411.7" y="491.9" width="5" height="5" fill="#000"/>
<rect x="415.9" y="487.2" width="5" height="5" fill="#000"/>
<rect x="419.8" y="492.6" width="5" height="5" fill="#000"/>
<rect x="423.2" y="489" width="5" height="5" fill="#000"/>
<rect x="427.1" y="492.6" width="5" height="5" fill="#000"/>
<line x1="404.5" y1="458.6" x2="439.8" y2="458.6" stroke="#111" stroke-width="1.2"/>
<text x="374.8" y="447" font-size="10.6" textLength="46.7" lengthAdjust="spacingAndGlyphs">P=0.0003</text>
<text x="356.6" y="522" font-size="10" fill="#222" textLength="26.7" lengthAdjust="spacingAndGlyphs" stroke="#222" stroke-width="0.3">Saline</text>
<text x="408.9" y="522" font-size="10" fill="#222" textLength="29.7" lengthAdjust="spacingAndGlyphs" stroke="#222" stroke-width="0.3">DMOG</text>
<text transform="translate(311.6,436) rotate(-90)" font-size="9.7" font-weight="bold" text-anchor="middle" textLength="135" lengthAdjust="spacingAndGlyphs">Repopulating units per femur</text>
<line x1="69.8" y1="544.4" x2="69.8" y2="680" stroke="#888" stroke-width="1"/>
<line x1="66.8" y1="680" x2="69.8" y2="680" stroke="#888" stroke-width="1"/>
<text x="62.4" y="682.9" font-size="8.4" font-weight="bold" text-anchor="end" fill="#222">0</text>
<line x1="66.8" y1="657.4" x2="69.8" y2="657.4" stroke="#888" stroke-width="1"/>
<text x="62.4" y="660.3" font-size="8.4" font-weight="bold" text-anchor="end" fill="#222" textLength="13.8" lengthAdjust="spacingAndGlyphs">100</text>
<line x1="66.8" y1="634.8" x2="69.8" y2="634.8" stroke="#888" stroke-width="1"/>
<text x="62.4" y="637.7" font-size="8.4" font-weight="bold" text-anchor="end" fill="#222" textLength="13.8" lengthAdjust="spacingAndGlyphs">200</text>
<line x1="66.8" y1="612.2" x2="69.8" y2="612.2" stroke="#888" stroke-width="1"/>
<text x="62.4" y="615.1" font-size="8.4" font-weight="bold" text-anchor="end" fill="#222" textLength="13.8" lengthAdjust="spacingAndGlyphs">300</text>
<line x1="66.8" y1="589.6" x2="69.8" y2="589.6" stroke="#888" stroke-width="1"/>
<text x="62.4" y="592.5" font-size="8.4" font-weight="bold" text-anchor="end" fill="#222" textLength="13.8" lengthAdjust="spacingAndGlyphs">400</text>
<line x1="66.8" y1="567" x2="69.8" y2="567" stroke="#888" stroke-width="1"/>
<text x="62.4" y="569.9" font-size="8.4" font-weight="bold" text-anchor="end" fill="#222" textLength="13.8" lengthAdjust="spacingAndGlyphs">500</text>
<line x1="66.8" y1="544.4" x2="69.8" y2="544.4" stroke="#888" stroke-width="1"/>
<text x="62.4" y="547.3" font-size="8.4" font-weight="bold" text-anchor="end" fill="#222" textLength="13.8" lengthAdjust="spacingAndGlyphs">600</text>
<rect x="84.7" y="658.4" width="18.7" height="21.6" fill="url(#stip)" stroke="#1a1a1a" stroke-width="1.2"/>
<rect x="103.4" y="679" width="17.8" height="1" fill="#222"/>
<rect x="148.3" y="615.1" width="18.1" height="64.9" fill="url(#stip)" stroke="#1a1a1a" stroke-width="1.2"/>
<rect x="166.4" y="619.2" width="19.3" height="60.8" fill="url(#chk)" stroke="#1a1a1a" stroke-width="1.2"/>
<line x1="93.5" y1="638.1" x2="93.5" y2="658.4" stroke="#222" stroke-width="1.1"/>
<line x1="91.5" y1="638.1" x2="95.5" y2="638.1" stroke="#222" stroke-width="1.1"/>
<line x1="110.6" y1="678.3" x2="114" y2="678.3" stroke="#222" stroke-width="1.2"/>
<line x1="157.7" y1="576" x2="157.7" y2="615.1" stroke="#222" stroke-width="1.1"/>
<line x1="155.7" y1="576" x2="159.7" y2="576" stroke="#222" stroke-width="1.1"/>
<line x1="176.1" y1="554.2" x2="176.1" y2="619.2" stroke="#222" stroke-width="1.1"/>
<line x1="174.1" y1="554.2" x2="178.1" y2="554.2" stroke="#222" stroke-width="1.1"/>
<line x1="69.8" y1="680" x2="198.3" y2="680" stroke="#888" stroke-width="1"/>
<line x1="69.8" y1="680" x2="69.8" y2="683" stroke="#888" stroke-width="1"/>
<line x1="134.1" y1="680" x2="134.1" y2="683" stroke="#888" stroke-width="1"/>
<line x1="198.3" y1="680" x2="198.3" y2="683" stroke="#888" stroke-width="1"/>
<text x="81.9" y="625.9" font-size="11.2" textLength="33.5" lengthAdjust="spacingAndGlyphs">P=0.02</text>
<text x="155.7" y="552.6" font-size="11.2" textLength="14.8" lengthAdjust="spacingAndGlyphs">NS</text>
<text x="91.2" y="695.2" font-size="8.6" font-weight="bold" fill="#222" textLength="22.3" lengthAdjust="spacingAndGlyphs" stroke="#222" stroke-width="0.3">Saline</text>
<text x="154.5" y="694.2" font-size="8.6" font-weight="bold" fill="#222" textLength="24.4" lengthAdjust="spacingAndGlyphs" stroke="#222" stroke-width="0.3">DMOG</text>
<text transform="translate(42.6,612.3) rotate(-90)" font-size="8" font-weight="bold" text-anchor="middle" textLength="111.6" lengthAdjust="spacingAndGlyphs">Repopulating units per femur</text>
<rect x="212.9" y="608" width="5.4" height="5" fill="#fafafa" stroke="#111" stroke-width="1.1"/>
<rect x="212.9" y="624.9" width="5.4" height="5" fill="url(#chk)" stroke="#111" stroke-width="1.1"/>
<text x="220" y="613.5" font-size="8.6" font-weight="bold" fill="#1a1a1a" textLength="55" lengthAdjust="spacingAndGlyphs" stroke="#1a1a1a" stroke-width="0.3">Pre-irradiation</text>
<text x="220" y="630.2" font-size="8.6" font-weight="bold" fill="#1a1a1a" textLength="58.2" lengthAdjust="spacingAndGlyphs" stroke="#1a1a1a" stroke-width="0.3">Post-irradiation</text>
</svg>
</body></html>
